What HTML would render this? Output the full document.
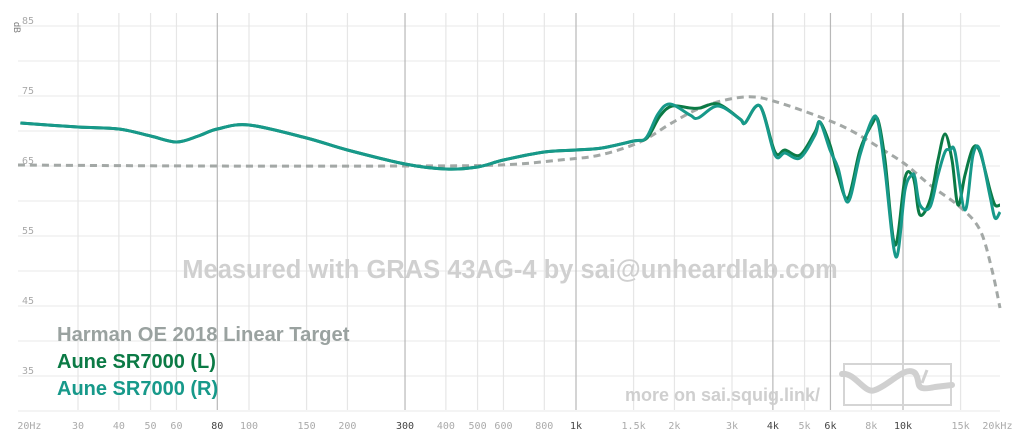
<!DOCTYPE html>
<html><head><meta charset="utf-8"><style>
html,body{margin:0;padding:0;background:#fff;}
body{width:1022px;height:442px;overflow:hidden;position:relative;font-family:"Liberation Sans",sans-serif;}
svg{position:absolute;left:0;top:0;}
.t{font-family:"DejaVu Sans Mono","Liberation Mono",monospace;font-size:10px;fill:#aaa;text-anchor:middle;}
.td{fill:#444;}
</style></head><body>
<svg id="s" width="1022" height="442" viewBox="0 0 1022 442">
<g id="grid"></g>
<text x="510" y="278" font-family="Liberation Sans" font-weight="bold" font-size="25.5" fill="#d0d0d0" text-anchor="middle">Measured with GRAS 43AG-4 by sai@unheardlab.com</text>
<text x="625" y="401" font-family="Liberation Sans" font-weight="bold" font-size="18" fill="#cfcfcf">more on sai.squig.link/</text>
<rect x="844" y="364" width="107" height="41" fill="none" stroke="#d5d5d5" stroke-width="2"/>
<path d="M842,374 C855,372 865,395 875,390 C890,385 905,365 915,373 C922,382 912,392 935,387 L952,385" fill="none" stroke="#d0d0d0" stroke-width="6" stroke-linecap="round"/>
<path d="M927,370 L922,383" stroke="#d0d0d0" stroke-width="3"/>
<g id="curves"></g>
<text x="57" y="341" font-family="Liberation Sans" font-weight="bold" font-size="20.2" fill="#9aa2a0">Harman OE 2018 Linear Target</text>
<text x="57" y="368" font-family="Liberation Sans" font-weight="bold" font-size="20" fill="#0b7a45">Aune SR7000 (L)</text>
<text x="57" y="395" font-family="Liberation Sans" font-weight="bold" font-size="20" fill="#17998a">Aune SR7000 (R)</text>
<text x="14" y="22" font-family="Liberation Sans" font-size="9" fill="#777" transform="rotate(90 14 22)">dB</text>
</svg>
<script>
function X(f){return 576+327*Math.log10(f/1000);}
function Y(d){return 26+(85-d)*7;}
var g=document.getElementById('grid'),html='';
for(var d=30;d<=85;d+=5){html+='<line x1="18" x2="1000" y1="'+Y(d)+'" y2="'+Y(d)+'" stroke="#f0f0f0" stroke-width="1.5"/>';}
[85,75,65,55,45,35].forEach(function(d){html+='<text x="22" y="'+(Y(d)-2)+'" font-family="DejaVu Sans Mono" font-size="10" fill="#aaa">'+d+'</text>';});
var ticks=[[20,'20Hz',0],[30,'30',0],[40,'40',0],[50,'50',0],[60,'60',0],[80,'80',1],[100,'100',0],[150,'150',0],[200,'200',0],[300,'300',1],[400,'400',0],[500,'500',0],[600,'600',0],[800,'800',0],[1000,'1k',1],[1500,'1.5k',0],[2000,'2k',0],[3000,'3k',0],[4000,'4k',1],[5000,'5k',0],[6000,'6k',1],[8000,'8k',0],[10000,'10k',1],[15000,'15k',0],[20000,'20kHz',0]];
ticks.forEach(function(t){var x=X(t[0]);
 if(t[0]>20&&t[0]<20000)html+='<line x1="'+x+'" x2="'+x+'" y1="13" y2="410" stroke="'+(t[2]?'#b8b8b8':'#e6e6e6')+'" stroke-width="1.2"/>';
 var tx=t[0]==20?x+9:(t[0]==20000?x-4:x);
 html+='<text class="t'+(t[2]?' td':'')+'" x="'+tx+'" y="429">'+t[1]+'</text>';});
g.innerHTML=html;
function path(p){var s='M'+p[0][0]+','+p[0][1];for(var i=0;i<p.length-1;i++){var p0=p[Math.max(0,i-1)],p1=p[i],p2=p[i+1],p3=p[Math.min(p.length-1,i+2)];
 s+=' C'+(p1[0]+(p2[0]-p0[0])/6).toFixed(1)+','+(p1[1]+(p2[1]-p0[1])/6).toFixed(1)+' '+(p2[0]-(p3[0]-p1[0])/6).toFixed(1)+','+(p2[1]-(p3[1]-p1[1])/6).toFixed(1)+' '+p2[0]+','+p2[1];}return s;}
var fb=[[20,123],[30,127],[40,129],[50,136],[60,142],[70,136],[80,129],[100,125],[150,138],[200,150],[300,164],[400,169],[500,167],[600,160],[800,152],[1000,150],[1200,148],[1500,141]];
var base=fb.map(function(p){return [+X(p[0]).toFixed(1),p[1]];});
var teal=base.concat([[646,138],[658,114],[670,104],[690,115],[698,118],[718,106],[740,119],[745,123],[760,106],[775,155],[785,153],[800,158],[815,135],[820,122],[830,150],[838,168],[848,202],[860,155],[872,120],[878,122],[885,170],[896,257],[905,190],[912,175],[915,178],[920,205],[930,207],[938,175],[945,152],[950,150],[955,152],[965,210],[973,155],[980,150],[990,196],[995,218],[1000,212]]);
var green=base.concat([[647,138],[660,116],[672,106],[690,108],[700,108],[718,104],[740,119],[745,123],[760,106],[775,152],[785,150],[800,155],[815,132],[820,122],[830,145],[838,175],[848,198],[860,150],[872,124],[878,120],[885,160],[895,245],[905,178],[912,175],[915,185],[920,215],[930,200],[938,160],[945,134],[952,160],[958,205],[965,175],[973,148],[980,152],[990,190],[995,205],[1000,205]]);
var tgt=[[18,165],[200,166],[400,166],[500,165],[560,160],[600,155],[640,142],[670,124],[700,108],[730,99],[755,97],[780,103],[820,117],[850,130],[880,148],[905,164],[930,185],[960,207],[980,230],[992,270],[1000,308]];
document.getElementById('curves').innerHTML=
'<path d="'+path(tgt)+'" fill="none" stroke="#a3a8a6" stroke-width="3" stroke-dasharray="7,5"/>'+
'<path d="'+path(green)+'" fill="none" stroke="#0b7a45" stroke-width="3"/>'+
'<path d="'+path(teal)+'" fill="none" stroke="#17998a" stroke-width="3"/>';
</script>
</body></html>
